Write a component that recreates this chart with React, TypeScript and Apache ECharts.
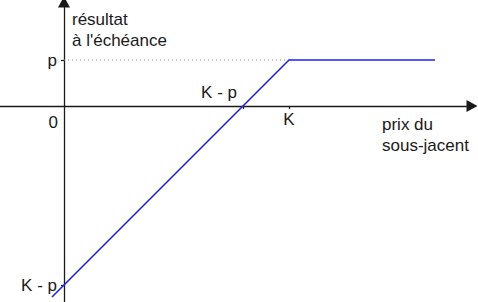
import React, { useEffect, useRef } from "react";
import * as echarts from "echarts";

// Conceptual payoff diagram (short put): units are arbitrary
const strike = 225; // K
const premium = 46; // p
const breakEven = strike - premium; // K - p
const payoffPoints: number[][] = [
  [-12, -191],
  [225, 46],
  [371, 46],
];
const premiumGuide: number[][] = [
  [0, 46],
  [225, 46],
];
const xTickValues = [breakEven, strike];
const xLabelValues = [strike];
const xLabelTexts: Record<string, string> = { "225": "K" };
const yTickValues = [premium, -breakEven];
const yLabelTexts: Record<string, string> = { "46": "p", "-179": "K - p" };
const yTitle = "résultat\nà l'échéance";
const xTitle = "prix du\nsous-jacent";
const originLabel = "0";
const breakEvenLabel = "K - p";

const FONT = "'Liberation Sans', Arial, sans-serif";
const TEXT = "#1a1a1a";
const GRID = { left: 0, right: 6, top: 2, bottom: 0 };
const W = 478;
const H = 302;

export default function App() {
  const ref = useRef<HTMLDivElement>(null);
  useEffect(() => {
    document.body.style.margin = "0";
    const chart = echarts.init(ref.current!, null, { renderer: "svg" });
    const axisLine = {
      onZero: false,
      symbol: ["none", "triangle"],
      symbolSize: [12, 11],
      lineStyle: { color: "#1a1a1a", width: 1.3 },
    };
    const tick = (vals: number[]) => ({
      show: true,
      customValues: vals,
      length: 3,
      inside: false,
      lineStyle: { color: "#1a1a1a", width: 1.2 },
    });
    const lbl = (vals: number[], map: Record<string, string>, margin: number) => ({
      customValues: vals,
      formatter: (v: number) => map[String(v)] ?? "",
      margin,
      fontSize: 17,
      fontFamily: FONT,
      color: TEXT,
    });
    chart.setOption({
      animation: false,
      grid: { ...GRID, containLabel: false, outerBoundsMode: "none" },
      xAxis: {
        type: "value",
        position: "bottom",
        min: -64,
        max: 408,
        axisLine,
        splitLine: { show: false },
        axisTick: tick(xTickValues),
        axisLabel: lbl(xLabelValues, xLabelTexts, 5),
      },
      yAxis: {
        type: "value",
        position: "left",
        min: -196,
        max: 104,
        axisLine,
        splitLine: { show: false },
        axisTick: tick(yTickValues),
        axisLabel: lbl(yTickValues, yLabelTexts, 7),
      },
      series: [
        {
          type: "line",
          data: premiumGuide,
          symbol: "none",
          lineStyle: { color: "#8a8a8a", width: 1, type: [1, 3] },
          z: 1,
        },
        {
          type: "line",
          data: payoffPoints,
          symbol: "none",
          lineStyle: { color: "#2020ff", width: 1.6 },
          z: 3,
        },
      ],
    });
    const o = chart.convertToPixel({ gridIndex: 0 }, [0, 0]) as number[];
    const be = chart.convertToPixel({ gridIndex: 0 }, [breakEven, 0]) as number[];
    const gridBottom = H - GRID.bottom;
    const gridLeft = GRID.left;
    const txt = (text: string, x: number, y: number, align: string, va: string) => ({
      type: "text",
      x,
      y,
      style: {
        text,
        fill: TEXT,
        font: `17px ${FONT}`,
        lineHeight: 21,
        align,
        verticalAlign: va,
      },
    });
    chart.setOption({
      xAxis: { offset: -(gridBottom - o[1]) },
      yAxis: { offset: -(o[0] - gridLeft) },
      graphic: [
        txt(originLabel, o[0] - 6, o[1] + 6, "right", "top"),
        txt(breakEvenLabel, be[0] - 6, be[1] - 3, "right", "bottom"),
        txt(yTitle, o[0] + 8, 9, "left", "top"),
        txt(xTitle, 382, 114, "left", "top"),
      ],
    });
    return () => chart.dispose();
  }, []);
  return (
    <div
      ref={ref}
      style={{ position: "absolute", left: 0, top: 0, width: W, height: H }}
    />
  );
}
